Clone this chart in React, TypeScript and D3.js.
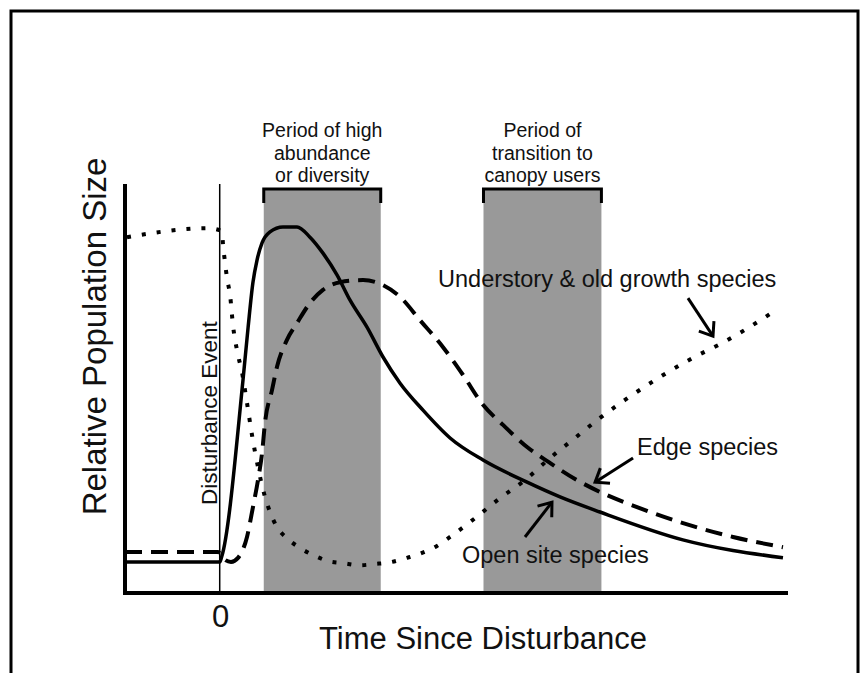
import React from "react";
import * as d3 from "d3";

// ---- data (time since disturbance, relative population size) ----
const openSiteX = [-1, 0, 0.02, 0.246, 0.3, 0.35, 0.394, 0.447, 0.531, 0.668, 0.816, 0.953, 1.09, 1.238, 1.376, 1.555, 1.724, 1.904, 2.146, 2.432, 2.78, 3.245, 3.593, 4.015, 4.89, 5.947];
const openSiteY = [7.6, 7.6, 8.8, 52.1, 65.0, 75.8, 81.4, 85.6, 88.3, 89.5, 89.5, 87.0, 83.1, 77.8, 71.6, 65.0, 57.7, 51.3, 44.7, 37.9, 32.5, 27.1, 23.5, 19.8, 13.0, 8.6];

const edgeX = [-1, -0.018, 0.045, 0.119, 0.193, 0.288, 0.351, 0.404, 0.447, 0.478, 0.552, 0.605, 0.71, 0.816, 0.953, 1.09, 1.27, 1.513, 1.724, 1.904, 2.115, 2.358, 2.569, 2.78, 2.991, 3.245, 3.487, 3.772, 4.015, 4.406, 4.892, 5.42, 5.947];
const edgeY = [10.0, 10.0, 8.3, 7.6, 8.6, 13.7, 21.0, 27.6, 34.2, 41.6, 49.6, 55.3, 61.9, 66.0, 70.9, 74.1, 76.0, 76.5, 75.3, 72.4, 66.7, 60.1, 53.3, 46.0, 41.1, 35.7, 31.8, 27.6, 24.7, 21.0, 17.1, 13.7, 11.2];

const understoryX = [-0.979, -0.124, 0.024, 0.035, 0.056, 0.077, 0.109, 0.14, 0.193, 0.235, 0.288, 0.341, 0.404, 0.478, 0.531, 0.605, 0.71, 0.848, 0.985, 1.143, 1.302, 1.481, 1.64, 1.819, 1.977, 2.136, 2.294, 2.432, 2.696, 2.959, 3.223, 3.487, 3.751, 4.015, 4.279, 4.997, 5.303, 5.578, 5.874];
const understoryY = [87.0, 89.2, 88.5, 85.1, 80.9, 77.0, 72.9, 65.5, 58.2, 54.0, 46.5, 38.6, 30.8, 23.5, 19.8, 16.1, 13.4, 11.0, 9.3, 7.8, 7.3, 6.8, 7.1, 7.6, 8.6, 9.8, 11.5, 13.7, 18.3, 23.2, 27.6, 33.0, 37.9, 42.8, 47.2, 57.5, 61.1, 64.8, 69.2];

const periodStart = [0.465, 2.785];
const periodEnd = [1.7, 4.03];
const periodLabels = [
  ["Period of high", "abundance", "or diversity"],
  ["Period of", "transition to", "canopy users"],
];

const xTickValues = [0];
const xTickLabels = ["0"];

const arrowLabels = ["Understory & old growth species", "Edge species", "Open site species"];
const arrowTailX = [4.944, 4.364, 3.223];
const arrowTailY = [72.1, 33.0, 13.7];
const arrowTipX = [5.208, 3.963, 3.508];
const arrowTipY = [62.8, 27.1, 22.2];
const labelX = [2.305, 4.406, 2.558];
const labelY = [74.8, 33.7, 7.3];

const disturbanceTime = 0;

const W = 862;
const H = 673;
const FONT = "'Liberation Sans', Arial, sans-serif";

export default function App() {
  const x = d3.scaleLinear().domain([-1, 6]).range([125, 788]);
  const y = d3.scaleLinear().domain([0, 100]).range([593, 184]);

  const line = d3
    .line<[number, number]>()
    .x((d) => x(d[0]))
    .y((d) => y(d[1]))
    .curve(d3.curveMonotoneX);

  const zip = (a: number[], b: number[]) => a.map((v, i) => [v, b[i]] as [number, number]);

  const bracketTop = y(100) + 5;
  const bracketTick = 14;

  const arrowHead = (x1: number, y1: number, x2: number, y2: number) => {
    const ang = Math.atan2(y2 - y1, x2 - x1);
    const len = 15;
    const spread = (37 * Math.PI) / 180;
    const a1 = ang + Math.PI - spread;
    const a2 = ang + Math.PI + spread;
    return `M${x2 + len * Math.cos(a1)},${y2 + len * Math.sin(a1)}L${x2},${y2}L${x2 + len * Math.cos(a2)},${y2 + len * Math.sin(a2)}`;
  };

  return (
    <svg
      width={W}
      height={H}
      style={{ position: "absolute", left: 0, top: 0, background: "#fff" }}
      fontFamily={FONT}
    >
      <rect x={0} y={0} width={W} height={H} fill="#fff" />
      {/* frame */}
      <rect x={11} y={11} width={847} height={720} fill="none" stroke="#000" strokeWidth={3} />

      {/* shaded periods */}
      {periodStart.map((s, i) => (
        <g key={"p" + i}>
          <rect
            x={x(s)}
            y={bracketTop}
            width={x(periodEnd[i]) - x(s)}
            height={y(0) - bracketTop}
            fill="#999999"
          />
          <path
            d={`M${x(s)},${bracketTop + bracketTick}V${bracketTop}H${x(periodEnd[i])}V${bracketTop + bracketTick}`}
            fill="none"
            stroke="#000"
            strokeWidth={3}
          />
          {periodLabels[i].map((t, j) => (
            <text
              key={j}
              x={(x(s) + x(periodEnd[i])) / 2}
              y={137 + j * 22.5}
              textAnchor="middle"
              fontSize={19.5}
              fill="#111"
            >
              {t}
            </text>
          ))}
        </g>
      ))}

      {/* disturbance line */}
      <line
        x1={x(disturbanceTime)}
        x2={x(disturbanceTime)}
        y1={y(100)}
        y2={y(0)}
        stroke="#000"
        strokeWidth={1.5}
      />
      <text
        transform={`translate(${x(disturbanceTime) - 3},505) rotate(-90)`}
        fontSize={22.5}
        fill="#111"
      >
        Disturbance Event
      </text>

      {/* curves */}
      <path d={line(zip(openSiteX, openSiteY)) || ""} fill="none" stroke="#000" strokeWidth={3.5} />
      <path
        d={line(zip(edgeX, edgeY)) || ""}
        fill="none"
        stroke="#000"
        strokeWidth={4}
        strokeDasharray="17 9"
      />
      <path
        d={line(zip(understoryX, understoryY)) || ""}
        fill="none"
        stroke="#000"
        strokeWidth={4}
        strokeDasharray="4 11"
      />

      {/* axes */}
      <line x1={x(-1)} x2={x(-1)} y1={y(100)} y2={y(0) + 2} stroke="#000" strokeWidth={4} />
      <line x1={x(-1) - 2} x2={x(6)} y1={y(0)} y2={y(0)} stroke="#000" strokeWidth={4} />
      {xTickValues.map((v, i) => (
        <text key={i} x={x(v) + 1} y={627} textAnchor="middle" fontSize={31} fill="#111">
          {xTickLabels[i]}
        </text>
      ))}
      <text x={483} y={649} textAnchor="middle" fontSize={31} fill="#111">
        Time Since Disturbance
      </text>
      <text
        transform={`translate(106,${(y(0) + y(100)) / 2 - 52}) rotate(-90)`}
        textAnchor="middle"
        fontSize={33}
        fill="#111"
      >
        Relative Population Size
      </text>

      {/* annotations */}
      {arrowLabels.map((t, i) => (
        <g key={"a" + i}>
          <line
            x1={x(arrowTailX[i])}
            y1={y(arrowTailY[i])}
            x2={x(arrowTipX[i])}
            y2={y(arrowTipY[i])}
            stroke="#000"
            strokeWidth={3}
          />
          <path
            d={arrowHead(x(arrowTailX[i]), y(arrowTailY[i]), x(arrowTipX[i]), y(arrowTipY[i]))}
            fill="none"
            stroke="#000"
            strokeWidth={3}
          />
          <text x={x(labelX[i])} y={y(labelY[i])} fontSize={23.5} fill="#111">
            {t}
          </text>
        </g>
      ))}
    </svg>
  );
}
